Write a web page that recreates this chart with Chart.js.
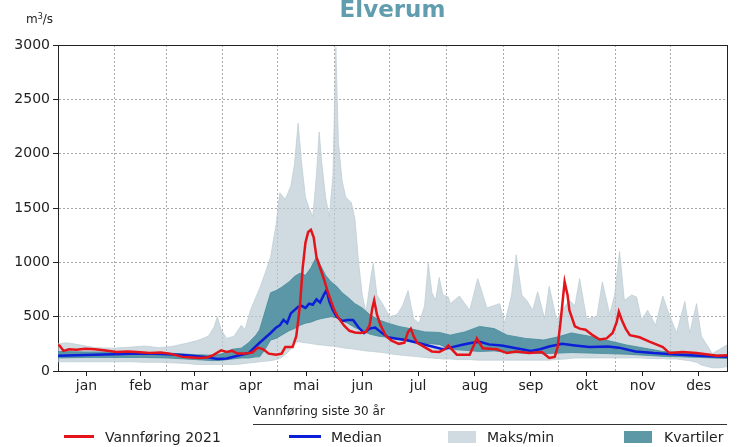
<!DOCTYPE html>
<html lang="no">
<head>
<meta charset="utf-8">
<title>Elverum</title>
<script src="https://cdn.jsdelivr.net/npm/chart.js@4.4.1/dist/chart.umd.min.js"></script>
<style>
  html, body { margin: 0; padding: 0; background: #fff; }
  #wrap { position: relative; width: 737px; height: 447px; overflow: hidden; font-family: 'DejaVu Sans', sans-serif; color: #222; }
  #chart { position: absolute; left: 0; top: 0; }
  .title { position: absolute; left: 58px; width: 669px; top: -2px; text-align: center; font-weight: bold; font-size: 23px; line-height: 23px; color: #609dae; }
  .unit { position: absolute; left: 26px; top: 13px; font-size: 12px; line-height: 12px; white-space: nowrap; }
  .unit span { font-size: 8px; position: relative; top: -4px; }
  .head { position: absolute; left: 253px; top: 404px; font-size: 12px; line-height: 14px; white-space: nowrap; }
  .rule { position: absolute; left: 253px; top: 424px; width: 474px; height: 1px; background: #333; }
  .item { position: absolute; top: 429px; font-size: 14px; line-height: 16px; white-space: nowrap; }
  .swatch-line { position: absolute; height: 3px; top: 435px; }
  .swatch-box { position: absolute; height: 12px; top: 431px; }
</style>
</head>
<body>
<div id="wrap">
  <canvas id="chart" width="737" height="447"></canvas>
  <div class="title">Elverum</div>
  <div class="unit">m<span>3</span>/s</div>
  <div class="head">Vannføring siste 30 år</div>
  <div class="rule"></div>
  <div class="swatch-line" style="left:64px;width:30px;background:#e4141b"></div>
  <div class="item" style="left:105px">Vannføring 2021</div>
  <div class="swatch-line" style="left:289px;width:32px;background:#0c1ed8"></div>
  <div class="item" style="left:331px">Median</div>
  <div class="swatch-box" style="left:448px;width:28px;background:#cfdbe0"></div>
  <div class="item" style="left:487px">Maks/min</div>
  <div class="swatch-box" style="left:624px;width:28px;background:#5c98a6"></div>
  <div class="item" style="left:664px">Kvartiler</div>
</div>
<script>
// Month names and the day-of-year where each month begins (365-day year)
const monthLabels = ['jan', 'feb', 'mar', 'apr', 'mai', 'jun', 'jul', 'aug', 'sep', 'okt', 'nov', 'des'];
const monthStarts = [0, 31, 59, 90, 120, 151, 181, 212, 243, 273, 304, 334, 365];
const yTicks = [0, 500, 1000, 1500, 2000, 2500, 3000];

// 30-year daily extremes (m3/s)
const bandDays = [0, 5, 12, 20, 30, 40, 47, 55, 62, 70, 76, 82, 85, 87, 89, 92, 96, 100, 102, 105,
  108, 110, 113, 116, 119, 121, 124, 127, 129, 131, 133, 135, 137, 139, 141, 142.5, 144, 146, 148, 150,
  151.6, 153, 155, 157, 160, 162, 164, 166, 168, 171, 172, 174, 177, 181, 185, 188, 191, 194, 197, 200,
  202, 204, 206, 208, 210, 213, 214, 219, 224.6, 229, 234, 241, 243.7, 247.5, 250, 253, 255.7, 259, 261.7, 265.5,
  268, 272, 276.4, 279, 282, 284.6, 288.4, 294, 297, 301, 303.7, 306.4, 309, 313, 315.7, 318.4, 321.7, 326, 330, 332.6,
  337.5, 342, 344.6, 348.4, 351, 357, 361, 365];
const maxFlow = [250, 260, 240, 215, 210, 220, 230, 215, 225, 255, 280, 320, 400, 500, 380, 300, 320, 420, 380, 560,
  680, 760, 900, 1050, 1350, 1640, 1580, 1700, 1900, 2280, 1900, 1600, 1500, 1420, 1800, 2200, 1900, 1600, 1420, 1800,
  2980, 2100, 1750, 1600, 1550, 1400, 1000, 700, 540, 900, 990, 700, 620, 500, 520, 600, 740, 480, 440, 600,
  990, 720, 650, 860, 700, 680, 620, 690, 560, 850, 580, 620, 440, 700, 1070, 700, 650, 560, 730, 480,
  780, 470, 590, 650, 600, 850, 480, 500, 820, 520, 700, 1100, 650, 700, 680, 470, 560, 420, 690, 560,
  350, 640, 350, 620, 320, 160, 200, 240];
const minFlow = [85, 85, 85, 85, 85, 85, 80, 80, 75, 70, 60, 60, 60, 60, 60, 60, 60, 65, 70, 75,
  80, 85, 90, 95, 105, 115, 150, 200, 260, 270, 265, 260, 255, 250, 245, 240, 240, 235, 230, 230,
  225, 220, 215, 210, 205, 200, 195, 190, 185, 180, 180, 175, 170, 160, 150, 145, 140, 135, 130, 125,
  120, 120, 115, 115, 110, 110, 110, 105, 105, 100, 100, 100, 100, 100, 100, 100, 100, 100, 100, 100,
  100, 105, 110, 115, 120, 120, 120, 120, 120, 120, 120, 120, 120, 120, 120, 120, 115, 115, 115, 110,
  110, 100, 95, 80, 55, 30, 30, 40];

// 30-year upper and lower quartiles
const quartDays = [0, 15, 30, 45, 60, 75, 85, 90, 95, 100, 104, 108, 110, 113, 116, 119, 122, 126, 129, 132,
  135, 138, 141, 143, 146, 149, 152, 155, 158, 162, 166, 170, 175, 180, 186, 192, 200, 208, 214, 222,
  230, 238, 245, 255, 265, 273, 280, 290, 300, 310, 320, 330, 340, 350, 365];
const upperQuartile = [180, 175, 175, 170, 165, 150, 145, 160, 200, 210, 260, 330, 380, 550, 720, 740, 770, 820, 870, 900,
  880, 950, 1050, 980, 880, 820, 780, 720, 680, 620, 580, 520, 470, 440, 410, 390, 360, 355, 330, 360,
  410, 390, 330, 300, 285, 315, 350, 320, 280, 240, 210, 180, 170, 160, 140];
const lowerQuartile = [120, 125, 125, 125, 120, 105, 95, 100, 110, 120, 120, 130, 130, 200, 285, 300, 330, 370, 390, 420,
  440, 450, 470, 480, 490, 500, 490, 460, 440, 400, 370, 340, 320, 310, 290, 270, 255, 245, 200, 190,
  180, 185, 170, 165, 160, 165, 170, 165, 160, 155, 145, 135, 130, 125, 115];

// 30-year median
const medianDays = [0, 10, 20, 30, 40, 50, 60, 70, 80, 87, 92, 98, 104, 110, 114, 116, 119, 121, 123, 125,
  127, 129, 131, 133, 135, 137, 139, 141, 143, 145, 146.5, 148, 150, 152, 155, 158, 161, 164, 167, 170,
  173, 176, 180, 184, 190, 196, 203, 210, 214, 220, 226, 230, 235, 242, 250, 258, 263, 268, 275, 282,
  290, 300, 306, 315, 325, 335, 345, 355, 365];
const medianFlow = [140, 145, 150, 155, 158, 160, 155, 145, 130, 110, 115, 140, 165, 260, 320, 350, 400, 420, 470, 440,
  530, 560, 590, 600, 580, 620, 610, 660, 630, 700, 745, 640, 560, 500, 460, 470, 470, 400, 350, 390,
  400, 360, 310, 300, 285, 260, 230, 200, 215, 240, 260, 270, 245, 235, 210, 185, 200, 225, 250, 235,
  220, 225, 215, 180, 165, 155, 145, 135, 130];

// Daily discharge 2021
const flowDays2021 = [0, 1, 3, 6, 10, 15, 20, 25, 32, 38, 43, 50, 56, 61, 68, 73, 77, 81, 84, 87,
  89, 92, 95, 98, 102, 106, 109, 112, 115, 119, 122, 124, 128, 130, 132, 133.5, 135, 136.5, 138, 139.5,
  141, 143, 145, 147, 149, 151, 153, 156, 159, 162, 165, 168, 170, 171.5, 172.5, 174, 176, 179, 182, 186,
  189, 191, 192.5, 194, 196, 200, 204, 208, 211, 213, 213.7, 217.6, 224.6, 228.5, 231.7, 239.4, 245, 250, 257, 264,
  268, 271, 272.6, 274.3, 276.4, 278, 279, 282, 284.6, 287.8, 291.7, 295.5, 299.3, 302.6, 304.8, 306, 307.6, 309.7, 312, 317.3,
  322.7, 330, 333.6, 340.8, 348.4, 355.5, 359.3, 365];
const flow2021 = [240, 230, 185, 200, 195, 205, 200, 190, 175, 180, 175, 165, 170, 160, 130, 125, 120, 125, 140, 170,
  190, 175, 185, 160, 160, 170, 215, 200, 160, 150, 160, 220, 220, 320, 600, 950, 1180, 1280, 1300, 1230,
  1050, 950, 850, 740, 640, 550, 490, 420, 370, 355, 350, 360, 420, 580, 650, 520, 420, 320, 280, 250,
  260, 360, 390, 320, 260, 220, 180, 175, 200, 235, 220, 150, 150, 300, 210, 200, 165, 180, 165, 175,
  120, 130, 220, 470, 820, 700, 560, 410, 390, 380, 330, 290, 300, 350, 450, 545, 470, 390, 330, 310,
  270, 220, 165, 175, 165, 150, 140, 145];

const toPoints = (xs, ys) => xs.map((x, i) => ({ x: x, y: ys[i] }));
const midMonths = monthLabels.map((_, i) => (monthStarts[i] + monthStarts[i + 1]) / 2);

const frame = '#222';
const gridGrey = '#a9a9a9';

Chart.defaults.font.family = "'DejaVu Sans', sans-serif";
Chart.defaults.color = frame;

new Chart(document.getElementById('chart'), {
  type: 'line',
  data: {
    datasets: [
      { label: 'Vannføring 2021', data: toPoints(flowDays2021, flow2021), borderColor: '#e4141b', borderWidth: 2.5, fill: false },
      { label: 'Median', data: toPoints(medianDays, medianFlow), borderColor: '#0c1ed8', borderWidth: 2.5, fill: false },
      { label: 'Kvartiler', data: toPoints(quartDays, upperQuartile), borderColor: 'rgba(72,140,156,0.85)', borderWidth: 1,
        backgroundColor: 'rgba(72,140,156,0.85)', fill: '+1' },
      { label: 'Kvartiler nedre', data: toPoints(quartDays, lowerQuartile), borderColor: 'rgba(72,140,156,0.85)', borderWidth: 1, fill: false },
      { label: 'Maks/min', data: toPoints(bandDays, maxFlow), borderColor: 'rgba(186,204,211,0.7)', borderWidth: 1,
        backgroundColor: 'rgba(186,204,211,0.7)', fill: '+1' },
      { label: 'Min', data: toPoints(bandDays, minFlow), borderColor: 'rgba(186,204,211,0.7)', borderWidth: 1, fill: false }
    ]
  },
  options: {
    responsive: false,
    animation: false,
    devicePixelRatio: 1,
    layout: { padding: { top: 45, right: 10, left: 0, bottom: 0 } },
    elements: { point: { radius: 0, hoverRadius: 0 }, line: { tension: 0 } },
    plugins: { legend: { display: false }, tooltip: { enabled: false }, title: { display: false } },
    events: [],
    scales: {
      x: {
        type: 'linear', position: 'bottom', min: 0, max: 365,
        afterBuildTicks: s => { s.ticks = midMonths.map(v => ({ value: v })); },
        afterFit: s => { s.height = 76; },
        ticks: { autoSkip: false, maxRotation: 0, padding: 2, color: frame, font: { size: 14 },
                 callback: (v, i) => monthLabels[i] },
        grid: { drawOnChartArea: false, drawTicks: true, tickLength: 5, tickColor: frame, color: frame },
        border: { display: true, color: frame, width: 1 }
      },
      months: {
        type: 'linear', position: 'bottom', min: 0, max: 365,
        afterBuildTicks: s => { s.ticks = monthStarts.slice(1, -1).map(v => ({ value: v })); },
        afterFit: s => { s.height = 0; },
        ticks: { display: false },
        grid: { color: gridGrey, lineWidth: 1, drawTicks: false },
        border: { display: false, dash: [2, 2] }
      },
      top: {
        type: 'linear', position: 'top', min: 0, max: 365,
        afterFit: s => { s.height = 0; },
        ticks: { display: false }, grid: { display: false },
        border: { display: true, color: frame, width: 1 }
      },
      y: {
        type: 'linear', position: 'left', min: 0, max: 3000,
        afterBuildTicks: s => { s.ticks = yTicks.map(v => ({ value: v })); },
        afterFit: s => { s.width = 58; },
        ticks: { padding: 3, color: frame, font: { size: 14 }, callback: v => String(v) },
        grid: { color: gridGrey, lineWidth: 1, tickLength: 5, tickColor: frame },
        border: { display: true, color: frame, width: 1, dash: [2, 2] }
      },
      right: {
        type: 'linear', position: 'right', min: 0, max: 3000,
        afterFit: s => { s.width = 0; },
        ticks: { display: false }, grid: { display: false },
        border: { display: true, color: frame, width: 1 }
      }
    }
  }
});
</script>
</body>
</html>
